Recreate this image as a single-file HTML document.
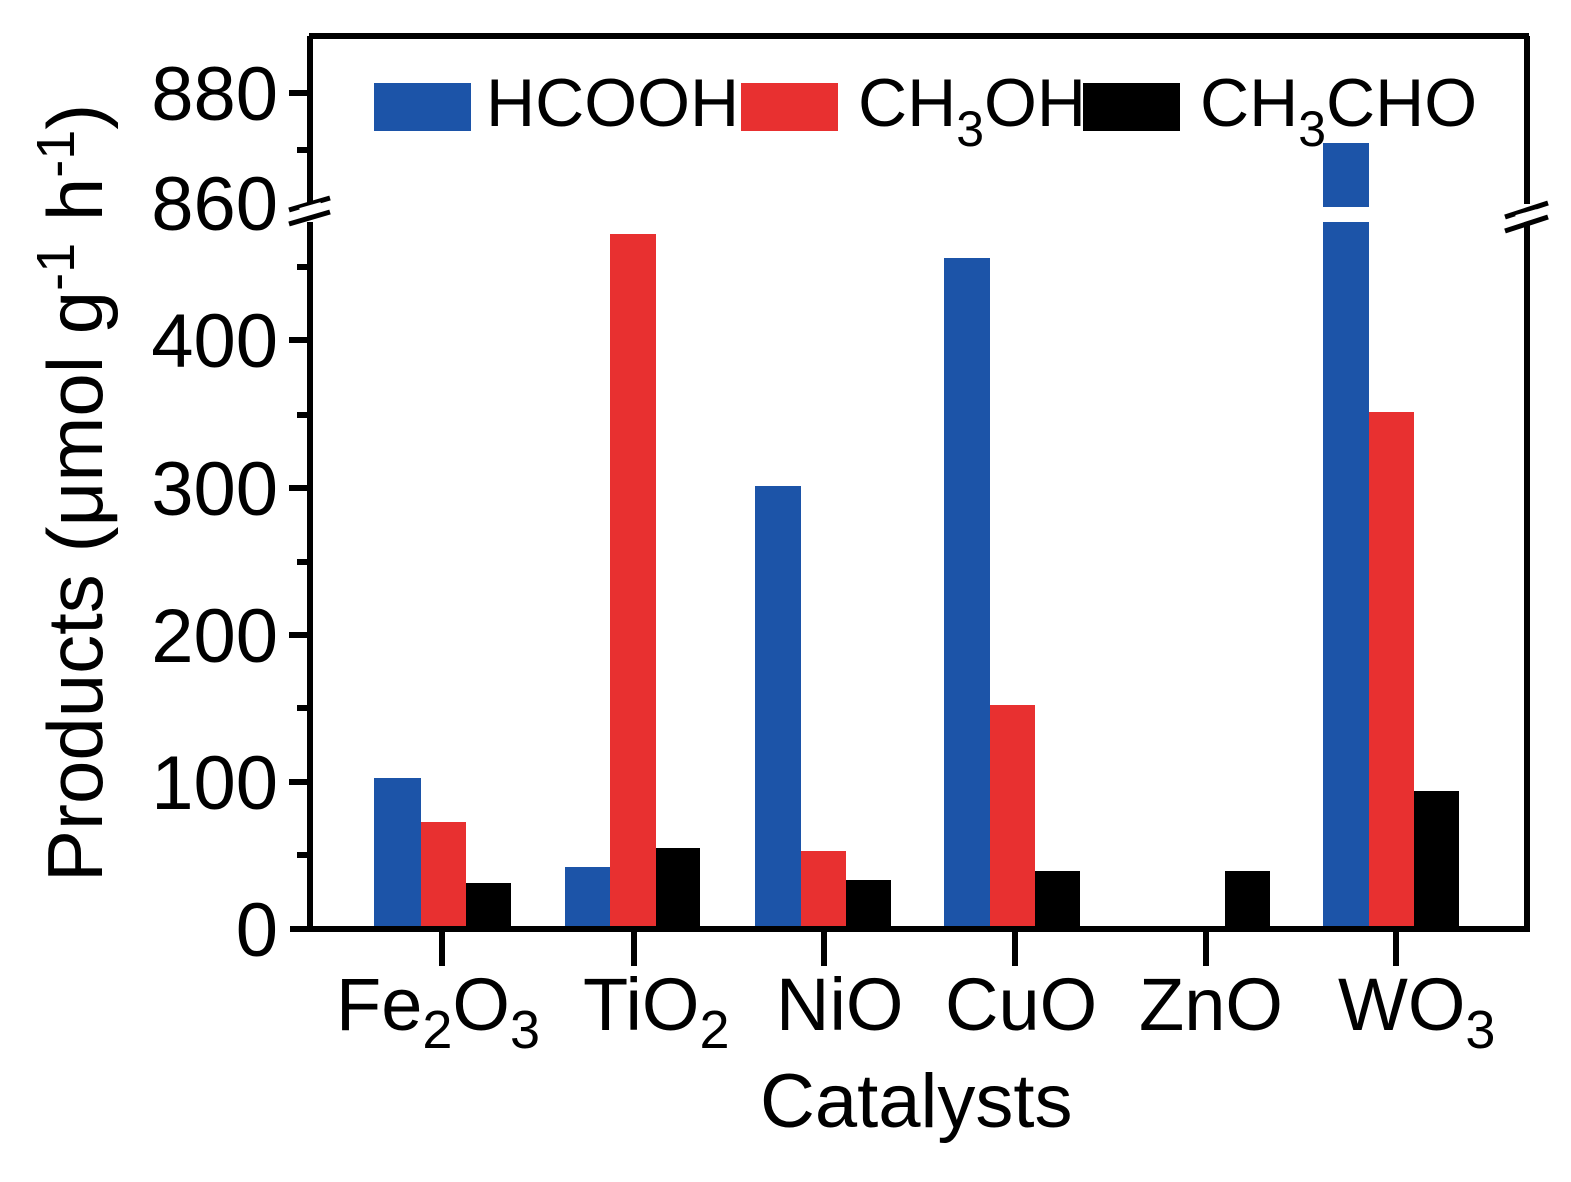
<!DOCTYPE html>
<html><head><style>body{margin:0;background:#fff}svg{display:block}text{font-family:"Liberation Sans",Arial,sans-serif;fill:#000}</style></head><body>
<svg width="1571" height="1182" viewBox="0 0 1571 1182" xmlns="http://www.w3.org/2000/svg">
<g fill="#1c54a8">
<rect x="374" y="778" width="47" height="151"/>
<rect x="565" y="867" width="45" height="62"/>
<rect x="755" y="486" width="46" height="443"/>
<rect x="944" y="258" width="46" height="671"/>
<rect x="1323" y="222" width="46" height="707"/>
<rect x="1323" y="143" width="46" height="64"/>
</g>
<g fill="#e83030">
<rect x="421" y="822" width="45" height="107"/>
<rect x="610" y="234" width="46" height="695"/>
<rect x="801" y="851" width="45" height="78"/>
<rect x="990" y="705" width="45" height="224"/>
<rect x="1369" y="412" width="45" height="517"/>
</g>
<g fill="#000">
<rect x="466" y="883" width="45" height="46"/>
<rect x="656" y="848" width="44" height="81"/>
<rect x="846" y="880" width="45" height="49"/>
<rect x="1035" y="871" width="45" height="58"/>
<rect x="1225" y="871" width="45" height="58"/>
<rect x="1414" y="791" width="45" height="138"/>
</g>
<g stroke="#000" stroke-width="6" fill="none">
<line x1="309" y1="36" x2="1529" y2="36"/>
<line x1="290" y1="929" x2="1529" y2="929"/>
<line x1="310" y1="36" x2="310" y2="204"/>
<line x1="310" y1="222" x2="310" y2="932"/>
<line x1="1527" y1="36" x2="1527" y2="204"/>
<line x1="1527" y1="222" x2="1527" y2="932"/>
<line x1="289" y1="93" x2="310" y2="93"/>
<line x1="289" y1="340" x2="310" y2="340"/>
<line x1="289" y1="488" x2="310" y2="488"/>
<line x1="289" y1="635" x2="310" y2="635"/>
<line x1="289" y1="782" x2="310" y2="782"/>
<line x1="297" y1="150" x2="310" y2="150"/>
<line x1="297" y1="267" x2="310" y2="267"/>
<line x1="297" y1="415" x2="310" y2="415"/>
<line x1="297" y1="562" x2="310" y2="562"/>
<line x1="297" y1="708" x2="310" y2="708"/>
<line x1="297" y1="855" x2="310" y2="855"/>
<line x1="442" y1="929" x2="442" y2="966"/>
<line x1="634" y1="929" x2="634" y2="966"/>
<line x1="824" y1="929" x2="824" y2="966"/>
<line x1="1015" y1="929" x2="1015" y2="966"/>
<line x1="1206" y1="929" x2="1206" y2="966"/>
<line x1="1396" y1="929" x2="1396" y2="966"/>
<line x1="289" y1="210" x2="330" y2="198" stroke-width="5"/>
<line x1="289" y1="224" x2="330" y2="212" stroke-width="5"/>
<line x1="1505" y1="217" x2="1548" y2="203" stroke-width="5"/>
<line x1="1505" y1="231" x2="1548" y2="217" stroke-width="5"/>
</g>
<rect x="300" y="205" width="22" height="8" fill="#fff" transform="rotate(-16 311 209)"/>
<rect x="1516" y="212" width="22" height="8" fill="#fff" transform="rotate(-16 1527 216)"/>
<g font-size="76" text-anchor="end">
<text x="278" y="120">880</text>
<text x="278" y="230">860</text>
<text x="278" y="367">400</text>
<text x="278" y="515">300</text>
<text x="278" y="662">200</text>
<text x="278" y="809">100</text>
<text x="278" y="956">0</text>
</g>
<g font-size="74">
<text x="336" y="1030">Fe<tspan font-size="54" dy="18">2</tspan><tspan dy="-18">O</tspan><tspan font-size="54" dy="18">3</tspan></text>
<text x="583" y="1030">TiO<tspan font-size="54" dy="18">2</tspan></text>
<text x="776" y="1030">NiO</text>
<text x="945" y="1030">CuO</text>
<text x="1139" y="1030">ZnO</text>
<text x="1338" y="1030">WO<tspan font-size="54" dy="18">3</tspan></text>
<text x="760" y="1127" font-size="76">Catalysts</text>
</g>
<text transform="translate(102 882) rotate(-90)" font-size="78">Products (μmol g<tspan font-size="54" dy="-28">-1</tspan><tspan dy="28"> h</tspan><tspan font-size="54" dy="-28">-1</tspan><tspan dy="28">)</tspan></text>
<rect x="374" y="83" width="97" height="48" fill="#1c54a8"/>
<text x="486" y="126" font-size="68">HCOOH</text>
<rect x="741" y="83" width="97" height="48" fill="#e83030"/>
<text x="858" y="126" font-size="68">CH<tspan font-size="50" dy="20">3</tspan><tspan dy="-20">OH</tspan></text>
<rect x="1083" y="83" width="97" height="48" fill="#000"/>
<text x="1200" y="126" font-size="68">CH<tspan font-size="50" dy="20">3</tspan><tspan dy="-20">CHO</tspan></text>
</svg>
</body></html>
